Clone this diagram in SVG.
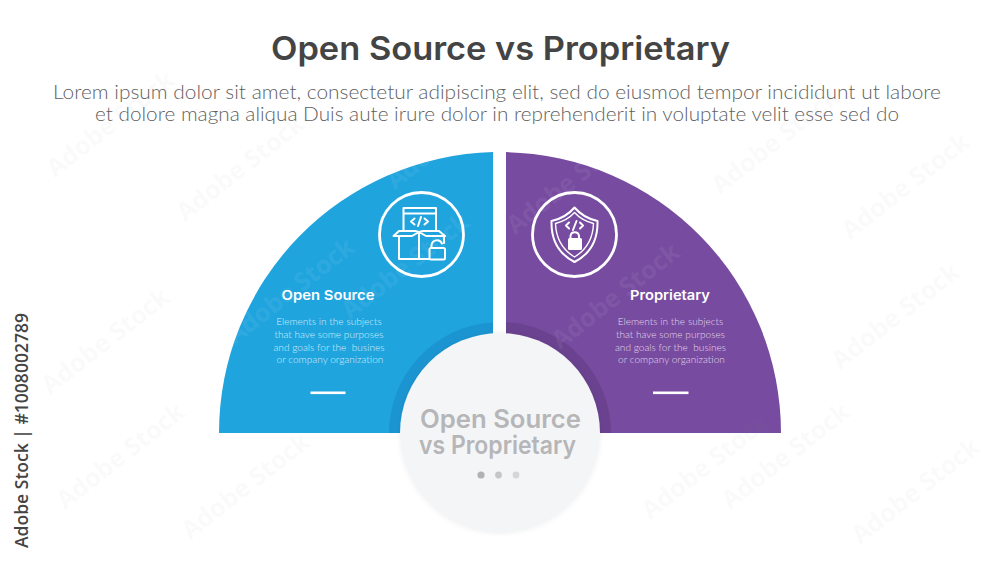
<svg xmlns="http://www.w3.org/2000/svg" width="1000" height="563" viewBox="0 0 1000 563">
<style>
.h{font-family:Inter,"Open Sans","Liberation Sans",sans-serif;font-weight:600}
.b{font-family:Lato,"Open Sans","Liberation Sans",sans-serif;font-weight:300;font-size:10.100px;fill:#d3ecf9}
.sub{font-family:Lato,"Open Sans","Liberation Sans",sans-serif;font-weight:300;font-size:19px;fill:#5f5f5f}
.ic{fill:none;stroke:#fff;stroke-width:2;stroke-linejoin:round;stroke-linecap:round}
.ring{fill:none;stroke:#fff;stroke-width:2.800}
.d{fill:#fff}
.wm{font-family:"Open Sans","Liberation Sans",sans-serif;font-weight:700;font-size:25px;fill:#888;opacity:.035}
.wl{font-family:"Open Sans","Liberation Sans",sans-serif;font-weight:700;font-size:25px;fill:#fff;opacity:.06}
</style>
<defs>
<filter id="sh" x="-20%" y="-20%" width="140%" height="140%"><feDropShadow dx="0" dy="0" stdDeviation="2.500" flood-color="#000" flood-opacity=".07"/></filter>
</defs>
<rect width="1000" height="563" fill="#fff"/>
<g id="title">
<text class="h" x="500.500" y="60" text-anchor="middle" font-size="33" fill="#444" textLength="459" lengthAdjust="spacingAndGlyphs">Open Source vs Proprietary</text>
<text class="sub" x="497" y="98.500" text-anchor="middle" textLength="888" lengthAdjust="spacingAndGlyphs">Lorem ipsum dolor sit amet, consectetur adipiscing elit, sed do eiusmod tempor incididunt ut labore</text>
<text class="sub" x="497" y="120.500" text-anchor="middle" textLength="804" lengthAdjust="spacingAndGlyphs">et dolore magna aliqua Duis aute irure dolor in reprehenderit in voluptate velit esse sed do</text>
</g>
<g id="node-open-source">
<path d="M493 152.100A281 281 0 0 0 219 433H493Z" fill="#20a4de"/>
<path d="M493 322.200A111 111 0 0 0 389 433H493Z" fill="#1b95d1"/>
<circle class="ring" cx="421.500" cy="234.500" r="42"/>
<g class="ic">
<path d="M403.500 231V208H436V231M403.500 213.500H436"/>
<path d="M414.500 218.500L411 221.500L414.500 224.500M424.500 218.500L428 221.500L424.500 224.500M421 217L418 226"/>
<path d="M399 236V259H429M444 236V243M393.500 236L399 231H415L419 232L423 231H439L445 236H426L419 232L412 236Z"/>
<path d="M419 232V259"/>
<rect x="429.500" y="248" width="15.500" height="11.500" rx="1.500"/>
<path d="M431.500 248V245.500A5.500 5.500 0 0 1 442 243.500"/>
</g>
<g class="tx">
<text class="h" x="328" y="299.500" text-anchor="middle" font-size="13.500" fill="#fff" textLength="93" lengthAdjust="spacingAndGlyphs">Open Source</text>
<text class="b" x="329" y="325" text-anchor="middle">Elements in the subjects</text>
<text class="b" x="329" y="338" text-anchor="middle">that have some purposes</text>
<text class="b" x="329" y="350.500" text-anchor="middle" xml:space="preserve">and goals for the  busines</text>
<text class="b" x="330" y="363" text-anchor="middle">or company organization</text>
</g>
<rect class="d" x="310.500" y="391.500" width="35" height="2.600"/>
</g>
<g id="node-proprietary">
<path d="M506 152.100A281 281 0 0 1 781 433H506Z" fill="#774b9f"/>
<path d="M506 322.200A111 111 0 0 1 611 433H506Z" fill="#6a4290"/>
<circle class="ring" cx="574.500" cy="234.500" r="42"/>
<g class="ic">
<path d="M574.500 207.500C569 214 561 219 551.500 221C551 240 559 254 574.500 262C590 254 598 240 597.500 221C588 219 580 214 574.500 207.500Z"/>
<path d="M574.500 212.500C570 217.500 563 221.500 555.500 223.500C556 238 563 250 574.500 257C586 250 593 238 593.500 223.500C586 221.500 579 217.500 574.500 212.500Z" stroke-width="1.400"/>
<path d="M569 222.500L566 225.500L569 228.500M580 222.500L583 225.500L580 228.500M576.500 221L573 230"/>
<path d="M570.500 238.500V236A4.300 4.300 0 0 1 579 236V238.500"/>
</g>
<rect x="568" y="238" width="14" height="12" rx="1.500" fill="#fff"/>
<g class="tx">
<text class="h" x="670" y="299.500" text-anchor="middle" font-size="13.500" fill="#fff" textLength="80" lengthAdjust="spacingAndGlyphs">Proprietary</text>
<text class="b" x="670.500" y="325" text-anchor="middle" style="fill:#e2d8ec">Elements in the subjects</text>
<text class="b" x="670.500" y="338" text-anchor="middle" style="fill:#e2d8ec">that have some purposes</text>
<text class="b" x="670.500" y="350.500" text-anchor="middle" style="fill:#e2d8ec" xml:space="preserve">and goals for the  busines</text>
<text class="b" x="671.500" y="363" text-anchor="middle" style="fill:#e2d8ec">or company organization</text>
</g>
<rect class="d" x="653" y="391.500" width="35.500" height="2.600"/>
</g>
<g id="node-center">
<circle cx="500" cy="433" r="100" fill="#f4f5f7" filter="url(#sh)"/>
<text class="h" x="500.500" y="428" text-anchor="middle" font-size="25" fill="#b6b6b8" textLength="161" lengthAdjust="spacingAndGlyphs">Open Source</text>
<text class="h" x="497.500" y="454" text-anchor="middle" font-size="25" fill="#b6b6b8" textLength="157" lengthAdjust="spacingAndGlyphs">vs Proprietary</text>
<circle cx="481" cy="475" r="3.600" fill="#b2b2b4"/>
<circle cx="498.500" cy="475" r="3.400" fill="#c6c6c8"/>
<circle cx="516" cy="475" r="3.400" fill="#d6d6d8"/>
</g>
<g id="stock-credit">
<text transform="translate(28 548) rotate(-90)" font-family="'Open Sans','Liberation Sans',sans-serif" font-weight="600" font-size="17.500" fill="#444" textLength="235" lengthAdjust="spacingAndGlyphs">Adobe Stock | #1008002789</text>
</g>
<g id="watermarks">
<text class="wm" transform="translate(55 178) rotate(-38)">Adobe Stock</text>
<text class="wm" transform="translate(185 222) rotate(-38)">Adobe Stock</text>
<text class="wl" transform="translate(395 190) rotate(-38)">Adobe</text>
<text class="wl" transform="translate(515 235) rotate(-38)">Adobe Stock</text>
<text class="wm" transform="translate(720 195) rotate(-38)">Adobe Stock</text>
<text class="wm" transform="translate(850 240) rotate(-38)">Adobe Stock</text>
<text class="wl" transform="translate(235 345) rotate(-38)">Adobe Stock</text>
<text class="wl" transform="translate(350 320) rotate(-38)">Adobe Stock</text>
<text class="wl" transform="translate(560 350) rotate(-38)">Adobe Stock</text>
<text class="wm" transform="translate(840 370) rotate(-38)">Adobe Stock</text>
<text class="wm" transform="translate(50 395) rotate(-38)">Adobe Stock</text>
<text class="wm" transform="translate(65 510) rotate(-38)">Adobe Stock</text>
<text class="wm" transform="translate(190 540) rotate(-38)">Adobe Stock</text>
<text class="wm" transform="translate(650 520) rotate(-38)">Adobe Stock</text>
<text class="wm" transform="translate(730 510) rotate(-38)">Adobe Stock</text>
<text class="wm" transform="translate(860 545) rotate(-38)">Adobe Stock</text>
</g>
</svg>
